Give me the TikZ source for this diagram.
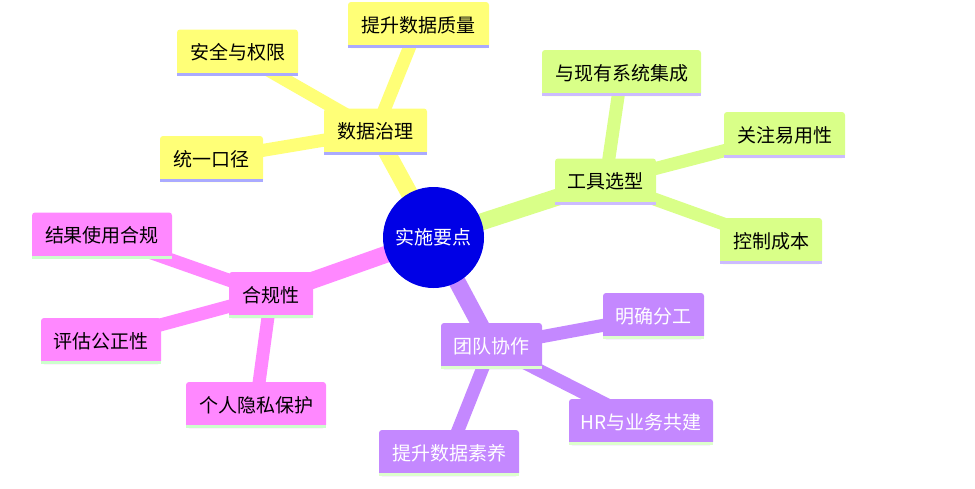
\documentclass[tikz,border=0pt]{standalone}
\usepackage{fontspec}
\setmainfont{Noto Sans CJK SC}
\usetikzlibrary{backgrounds}
\definecolor{cblue}{HTML}{0000E6}
\definecolor{yel}{HTML}{FFFF77}
\definecolor{grn}{HTML}{D9FF88}
\definecolor{pnk}{HTML}{FF88FF}
\definecolor{prp}{HTML}{C488FF}
\definecolor{syel}{HTML}{AAAAFF}
\definecolor{sgrn}{HTML}{CCBBFF}
\definecolor{spnk}{HTML}{CCFFCC}
\definecolor{sprp}{HTML}{DDFFCC}
\begin{document}
\begin{tikzpicture}[x=1pt,y=-1pt,
  box/.style={rectangle, rounded corners=3pt, inner sep=0pt, minimum height=46pt,
    font=\fontsize{19}{21}\selectfont},
  ybox/.style={box, fill=yel, text=black},
  gbox/.style={box, fill=grn, text=black},
  pbox/.style={box, fill=pnk, text=black},
  vbox/.style={box, fill=prp, text=white},
  mainline/.style={line width=17pt},
  subline/.style={line width=13pt},
]
\useasboundingbox (0,0) rectangle (975,488);

% center
\node[circle, fill=cblue, minimum size=101pt, inner sep=0pt, text=white,
  font=\fontsize{19}{21}\selectfont] (c) at (433.5,237.5) {实施要点};

% yellow branch
\node[ybox, minimum width=103pt] (dz) at (375.5,131.5) {数据治理};
\node[ybox, minimum width=141pt] (tz) at (418.5,25) {提升数据质量};
\node[ybox, minimum width=121pt] (aq) at (237.5,52.5) {安全与权限};
\node[ybox, minimum width=103pt] (ty) at (211.5,159) {统一口径};

% green branch
\node[gbox, minimum width=101pt] (gj) at (605.5,181.5) {工具选型};
\node[gbox, minimum width=159pt] (yx) at (621.5,73) {与现有系统集成};
\node[gbox, minimum width=121pt] (gz) at (784.5,135) {关注易用性};
\node[gbox, minimum width=102pt] (kz) at (771,241) {控制成本};

% pink branch
\node[pbox, minimum width=84pt] (hg) at (271,295) {合规性};
\node[pbox, minimum width=140pt] (jg) at (102,235.5) {结果使用合规};
\node[pbox, minimum width=120pt] (pg) at (101,341) {评估公正性};
\node[pbox, minimum width=140pt] (gr) at (256,405) {个人隐私保护};

% purple branch
\node[vbox, minimum width=101pt] (td) at (491.5,346) {团队协作};
\node[vbox, minimum width=101pt] (mq) at (653.5,316) {明确分工};
\node[vbox, minimum width=144pt] (hr) at (641,422) {HR与业务共建};
\node[vbox, minimum width=140pt] (ts) at (449,453) {提升数据素养};

% bottom strips
\foreach \n in {dz,tz,aq,ty} \fill[syel] ([yshift=3pt]\n.south west) rectangle (\n.south east);
\foreach \n in {gj,yx,gz,kz} \fill[sgrn] ([yshift=3pt]\n.south west) rectangle (\n.south east);
\foreach \n in {hg,jg,pg,gr} \fill[spnk] ([yshift=3pt]\n.south west) rectangle (\n.south east);
\foreach \n in {td,mq,hr,ts} \fill[sprp] ([yshift=3pt]\n.south west) rectangle (\n.south east);

\begin{scope}[on background layer]
  \draw[mainline, yel] (c.center) -- (dz.center);
  \draw[subline, yel] (dz.center) -- (tz.center);
  \draw[subline, yel] (dz.center) -- (aq.center);
  \draw[subline, yel] (dz.center) -- (ty.center);
  \draw[mainline, grn] (c.center) -- (gj.center);
  \draw[subline, grn] (gj.center) -- (yx.center);
  \draw[subline, grn] (gj.center) -- (gz.center);
  \draw[subline, grn] (gj.center) -- (kz.center);
  \draw[mainline, pnk] (c.center) -- (hg.center);
  \draw[subline, pnk] (hg.center) -- (jg.center);
  \draw[subline, pnk] (hg.center) -- (pg.center);
  \draw[subline, pnk] (hg.center) -- (gr.center);
  \draw[mainline, prp] (c.center) -- (td.center);
  \draw[subline, prp] (td.center) -- (mq.center);
  \draw[subline, prp] (td.center) -- (hr.center);
  \draw[subline, prp] (td.center) -- (ts.center);
\end{scope}
\end{tikzpicture}
\end{document}
